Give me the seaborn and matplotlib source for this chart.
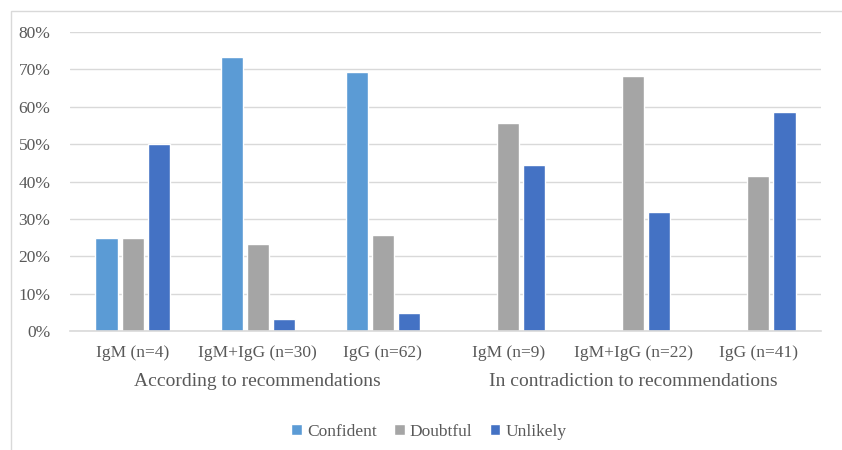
import numpy as np
import pandas as pd
import matplotlib
matplotlib.use("Agg")
import matplotlib.pyplot as plt
import seaborn as sns
from matplotlib.patches import Rectangle
from matplotlib.ticker import FuncFormatter

# categories and series values (fractions)
groups = ["IgM (n=4)", "IgM+IgG (n=30)", "IgG (n=62)",
          "IgM (n=9)", "IgM+IgG (n=22)", "IgG (n=41)"]
sections = ["According to recommendations", "In contradiction to recommendations"]
confident = [0.25, 0.733, 0.694, 0.0, 0.0, 0.0]
doubtful = [0.25, 0.233, 0.258, 0.556, 0.682, 0.415]
unlikely = [0.50, 0.033, 0.048, 0.444, 0.318, 0.585]
series = ["Confident", "Doubtful", "Unlikely"]
colors = ["#5B9BD5", "#A5A5A5", "#4472C4"]

# unique keys so duplicate labels stay separate categories
keys = [f"{i}" for i in range(len(groups))]
df = pd.DataFrame({
    "key": keys * 3,
    "series": np.repeat(series, len(groups)),
    "value": confident + doubtful + unlikely,
})

sns.set_style("white")
plt.rcParams["font.family"] = ["Liberation Serif", "DejaVu Serif"]
text_color = "#595959"

fig = plt.figure(figsize=(8.42, 4.5), dpi=100)
ax = fig.add_axes([70 / 842, 1 - 331 / 450, 751 / 842, 299 / 450])

sns.barplot(data=df, x="key", y="value", hue="series", order=keys,
            hue_order=series, palette=colors, width=0.625, gap=0.15,
            saturation=1, ax=ax, legend=True)

ax.set_ylim(0, 0.8)
ax.set_xlim(-0.5, len(groups) - 0.5)
ax.set_yticks(np.arange(0, 0.81, 0.1))
ax.yaxis.set_major_formatter(FuncFormatter(lambda v, p: f"{v * 100:.0f}%"))
ax.set_xticks(range(len(groups)))
ax.set_xticklabels(groups)
ax.set_xlabel("")
ax.set_ylabel("")
ax.grid(axis="y", color="#D9D9D9", linewidth=1)
ax.set_axisbelow(True)
for s in ["top", "right", "left"]:
    ax.spines[s].set_visible(False)
ax.spines["bottom"].set_color("#D9D9D9")
ax.spines["bottom"].set_linewidth(1.2)
ax.tick_params(axis="both", length=0, labelsize=12.5, labelcolor=text_color)
ax.tick_params(axis="y", pad=14)
ax.tick_params(axis="x", pad=10)

# section labels under the groups
for i, name in enumerate(sections):
    ax.text(1 + 3 * i, -0.168, name, transform=ax.get_xaxis_transform(),
            ha="center", va="center", fontsize=14, color=text_color)

handles, labels = ax.get_legend_handles_labels()
ax.legend_.remove()
fig.legend(handles, labels, loc="center", bbox_to_anchor=(429 / 842, 1 - 432 / 450),
           ncol=3, frameon=False, fontsize=12.5, handlelength=0.6, handleheight=0.6,
           handletextpad=0.3, columnspacing=1.0, labelcolor=text_color)

# chart frame
fig.patches.append(Rectangle((11 / 842, -0.1), 1.2, 1 - 11 / 450 + 0.1,
                             transform=fig.transFigure, fill=False,
                             edgecolor="#D9D9D9", linewidth=1))

fig.savefig("out.png", dpi=100)
